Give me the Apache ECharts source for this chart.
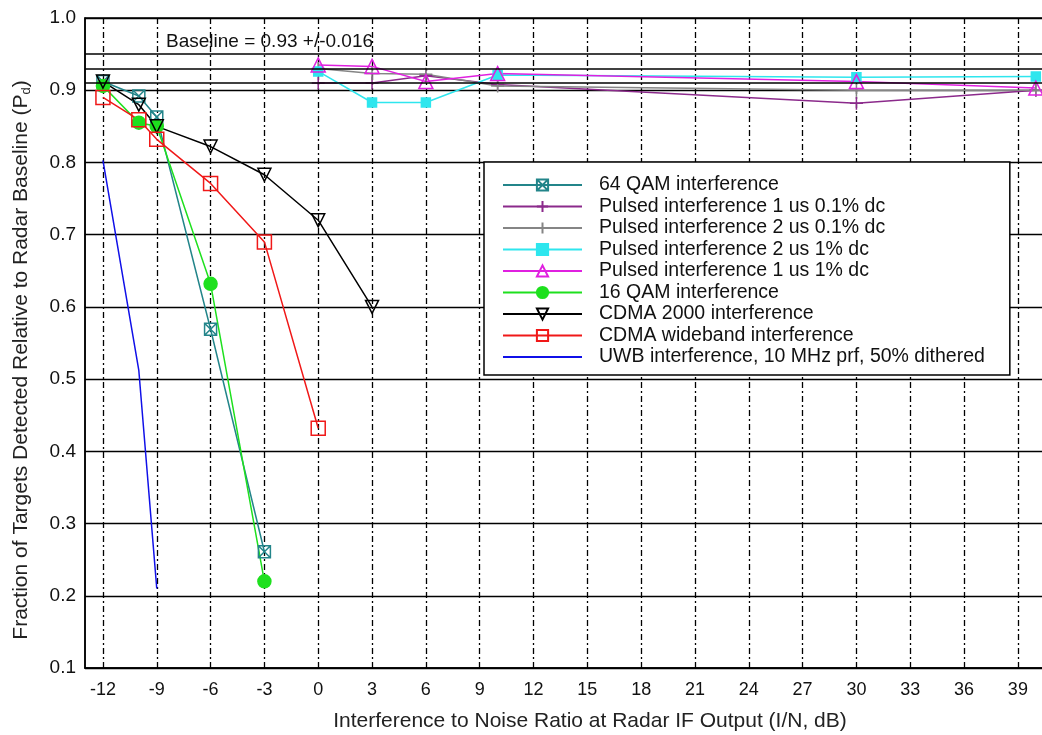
<!DOCTYPE html>
<html>
<head>
<meta charset="utf-8">
<script src="https://cdn.jsdelivr.net/npm/echarts@6/dist/echarts.min.js"></script>
<style>
  html, body { margin: 0; padding: 0; background: #fff; }
  #chart { width: 1042px; height: 735px; }
</style>
</head>
<body>
<div id="chart"></div>
<script>
// tick labels on the x axis
var xTicks = [-12, -9, -6, -3, 0, 3, 6, 9, 12, 15, 18, 21, 24, 27, 30, 33, 36, 39];

// communication-type interference (I/N dB)
var xQam64 = [-12, -10, -9, -6, -3];
var yQam64 = [0.912, 0.892, 0.863, 0.569, 0.261];
var xQam16 = [-12, -10, -9, -6, -3];
var yQam16 = [0.906, 0.855, 0.85, 0.632, 0.22];
var xCdma2000 = [-12, -10, -9, -6, -3, 0, 3];
var yCdma2000 = [0.912, 0.88, 0.85, 0.822, 0.783, 0.72, 0.60];
var xCdmaWide = [-12, -10, -9, -6, -3, 0];
var yCdmaWide = [0.89, 0.859, 0.832, 0.771, 0.69, 0.432];
var xUwb = [-12, -10, -9];
var yUwb = [0.803, 0.512, 0.21];

// pulsed interference
var xPulsed = [0, 3, 6, 10, 30, 40];
var yP1us01 = [0.91, 0.91, 0.92, 0.908, 0.882, 0.90];
var yP2us01 = [0.93, 0.923, 0.922, 0.906, 0.90, 0.90];
var yP2us1 = [0.926, 0.883, 0.883, 0.921, 0.918, 0.919];
var yP1us1 = [0.935, 0.933, 0.912, 0.923, 0.912, 0.903];

// baseline 0.93 +/- 0.016
var baseline = [0.946, 0.93, 0.914];

function pairs(xs, ys) {
    return xs.map(function (x, i) { return [x, ys[i]]; });
}

var font = "'Liberation Sans', Arial, sans-serif";
var boxX = 'path://M0,0H10V10H0Z M0,0L10,10 M10,0L0,10';
var plus = 'path://M5,0V10 M0,5H10';
var downTri = 'path://M0,0H10L5,10Z';
var upTri = 'path://M5,0L10,10H0Z';
var openSq = 'path://M0,0H10V10H0Z';

function mkSeries(name, data, color, symbol, size, filled) {
    return {
        name: name,
        type: 'line',
        data: data,
        symbol: symbol,
        symbolSize: size,
        showSymbol: symbol !== 'none',
        lineStyle: { color: color, width: 1.5 },
        itemStyle: {
            color: filled ? color : 'rgba(255,255,255,0)',
            borderColor: color,
            borderWidth: 1.5
        },
        emphasis: { disabled: true },
        animation: false
    };
}

var series = [
    mkSeries('64 QAM interference', pairs(xQam64, yQam64), '#23858a', boxX, 12, false),
    mkSeries('Pulsed interference 1 us 0.1% dc', pairs(xPulsed, yP1us01), '#8b2a8b', plus, 13, false),
    mkSeries('Pulsed interference 2 us 0.1% dc', pairs(xPulsed, yP2us01), '#858585', plus, 13, false),
    mkSeries('Pulsed interference 2 us 1% dc', pairs(xPulsed, yP2us1), '#2ee6ee', 'rect', 9, true),
    mkSeries('Pulsed interference 1 us 1% dc', pairs(xPulsed, yP1us1), '#e020e0', upTri, 14, false),
    mkSeries('16 QAM interference', pairs(xQam16, yQam16), '#1ee01e', 'circle', 13, true),
    mkSeries('CDMA 2000 interference', pairs(xCdma2000, yCdma2000), '#000000', downTri, 13, false),
    mkSeries('CDMA wideband interference', pairs(xCdmaWide, yCdmaWide), '#f01818', openSq, 14, false),
    mkSeries('UWB interference, 10 MHz prf, 50% dithered', pairs(xUwb, yUwb), '#1010e8', 'none', 0, false)
];

// baseline band lines
series[0].markLine = {
    silent: true,
    symbol: 'none',
    label: { show: false },
    lineStyle: { color: '#000', width: 1.5, type: 'solid' },
    data: baseline.map(function (v) { return { yAxis: v }; })
};

var legendData = series.map(function (s) {
    if (s.symbol === 'none') {
        return { name: s.name, itemStyle: { opacity: 0 } };
    }
    return { name: s.name };
});

var option = {
    backgroundColor: '#fff',
    textStyle: { fontFamily: font },
    title: {
        text: 'Baseline = 0.93 +/-0.016',
        left: 161,
        top: 27,
        textStyle: { fontFamily: font, fontSize: 19, fontWeight: 'normal', color: '#111' }
    },
    grid: {
        left: 85, right: -1, top: 18, bottom: 67,
        outerBoundsMode: 'none',
        show: true, borderColor: '#000', borderWidth: 1.5, backgroundColor: '#fff'
    },
    legend: {
        orient: 'vertical',
        left: 484,
        top: 162,
        padding: [13, 25, 8, 18],
        backgroundColor: '#fff',
        borderColor: '#000',
        borderWidth: 1.5,
        itemWidth: 79,
        itemHeight: 14,
        itemGap: 1.5,
        textStyle: { fontFamily: font, fontSize: 19.5, lineHeight: 19, color: '#111', padding: [0, 0, 0, 12] },
        data: legendData
    },
    xAxis: {
        type: 'value',
        min: -13,
        max: 40.4,
        name: 'Interference to Noise Ratio at Radar IF Output (I/N, dB)',
        nameLocation: 'middle',
        nameGap: 43,
        nameTextStyle: { fontFamily: font, fontSize: 21, color: '#222', padding: [0, 0, 0, 52] },
        axisLine: { onZero: false, lineStyle: { color: '#000', width: 1.5 } },
        axisTick: { show: false, customValues: xTicks },
        axisLabel: { customValues: xTicks, fontFamily: font, fontSize: 18, color: '#111', margin: 13 },
        splitLine: { show: true, lineStyle: { color: '#000', width: 1.3, type: [6, 3, 2, 3] } }
    },
    yAxis: {
        type: 'value',
        min: 0.1,
        max: 1.0,
        interval: 0.1,
        name: '{a|Fraction of Targets Detected Relative to Radar Baseline (P}{s|d}{a|)}',
        nameLocation: 'middle',
        nameGap: 52,
        nameTextStyle: {
            padding: [0, 34, 0, 0],
            rich: {
                a: { fontFamily: font, fontSize: 21, color: '#222' },
                s: { fontFamily: font, fontSize: 13, color: '#222', padding: [10, 0, 0, 0] }
            }
        },
        axisLine: { onZero: false, lineStyle: { color: '#000', width: 1.5 } },
        axisTick: { show: false },
        axisLabel: {
            fontSize: 19, color: '#111', margin: 9,
            formatter: function (v) { return v.toFixed(1); }
        },
        splitLine: { show: true, lineStyle: { color: '#000', width: 1.3 } }
    },
    series: series
};

var myChart = echarts.init(document.getElementById('chart'));
myChart.setOption(option);
</script>
</body>
</html>
